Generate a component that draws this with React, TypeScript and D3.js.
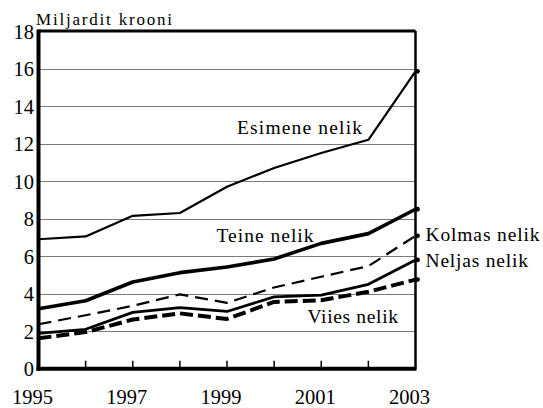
import * as d3 from "d3";

const YEARS = [1995, 1996, 1997, 1998, 1999, 2000, 2001, 2002, 2003];
const YEAR_LABELS = [1995, 1997, 1999, 2001, 2003];
const Y_TICKS = [0, 2, 4, 6, 8, 10, 12, 14, 16, 18];

const ESIMENE = [6.9, 7.05, 8.15, 8.3, 9.7, 10.7, 11.5, 12.2, 15.85];
const TEINE = [3.2, 3.62, 4.62, 5.12, 5.42, 5.85, 6.68, 7.2, 8.5];
const KOLMAS = [2.37, 2.85, 3.35, 3.96, 3.51, 4.33, 4.9, 5.47, 7.08];
const NELJAS = [1.88, 2.1, 3.0, 3.26, 3.05, 3.83, 3.92, 4.5, 5.8];
const VIIES = [1.62, 1.95, 2.62, 2.95, 2.65, 3.56, 3.65, 4.1, 4.75];

const SERIES = [
  { name: "Esimene nelik", values: ESIMENE, width: 2.2, dash: undefined },
  { name: "Teine nelik", values: TEINE, width: 3.6, dash: undefined },
  { name: "Kolmas nelik", values: KOLMAS, width: 2.2, dash: "13,7" },
  { name: "Neljas nelik", values: NELJAS, width: 2.8, dash: undefined },
  { name: "Viies nelik", values: VIIES, width: 4, dash: "13,5" },
];

// label positions (left x, baseline y, rendered width)
const LABELS = [
  { text: "Esimene nelik", x: 237, y: 134, w: 125 },
  { text: "Teine nelik", x: 216.5, y: 242, w: 97 },
  { text: "Kolmas nelik", x: 425.5, y: 241, w: 114 },
  { text: "Neljas nelik", x: 425.5, y: 266.5, w: 102.5 },
  { text: "Viies nelik", x: 307.5, y: 323, w: 90.5 },
];

const W = 543;
const H = 408;

export default function App() {
  const x = d3.scaleLinear().domain([1995, 2003]).range([38.5, 415.5]);
  const y = d3.scaleLinear().domain([0, 18]).range([368.7, 31]);

  const line = d3.line<number>()
    .x((_, i) => x(YEARS[i]))
    .y((d) => y(d));

  return (
    <svg
      width={W}
      height={H}
      style={{ position: "absolute", left: 0, top: 0, background: "#fff" }}
    >
      {/* gridlines */}
      {Y_TICKS.filter((t) => t > 0 && t < 18).map((t) => (
        <line
          key={t}
          x1={x(1995)}
          x2={x(2003)}
          y1={Math.round(y(t)) + 0.5}
          y2={Math.round(y(t)) + 0.5}
          stroke="#7a7a7a"
          strokeWidth={1}
        />
      ))}

      {/* bottom ticks, pointing up */}
      {YEARS.slice(1, -1).map((yr) => (
        <line key={yr} x1={x(yr)} x2={x(yr)} y1={y(0)} y2={y(0) - 8} stroke="#000" strokeWidth={1.5} />
      ))}

      {/* frame top / right */}
      <line x1={x(1995)} x2={x(2003)} y1={y(18)} y2={y(18)} stroke="#000" strokeWidth={3} />
      <line x1={x(2003)} x2={x(2003)} y1={y(18)} y2={y(0)} stroke="#000" strokeWidth={2.5} />

      {/* series */}
      {SERIES.map((s) => (
        <g key={s.name}>
          <path
            d={line(s.values) ?? ""}
            fill="none"
            stroke="#000"
            strokeWidth={s.width}
            strokeLinejoin="round"
            strokeDasharray={s.dash}
          />
          <circle cx={x(2003) + 2} cy={y(s.values[s.values.length - 1])} r={2.4} fill="#000" />
        </g>
      ))}

      {/* thick axes */}
      <line x1={x(1995)} x2={x(1995)} y1={y(18) - 1.5} y2={y(0) + 2} stroke="#000" strokeWidth={4} />
      <line x1={x(1995) - 2} x2={x(2003) + 1} y1={y(0)} y2={y(0)} stroke="#000" strokeWidth={4} />

      <g style={{ fontFamily: "Liberation Serif" }}>
        {/* y tick labels */}
        {Y_TICKS.map((t) => (
          <text key={t} x={34} y={y(t) + 7.5} textAnchor="end" fontSize={20.5} style={{ fontFamily: "Liberation Serif" }}>
            {t}
          </text>
        ))}

        {/* x tick labels */}
        {YEAR_LABELS.map((yr) => (
          <text key={yr} x={x(yr) - 6} y={404} textAnchor="middle" fontSize={20.5} style={{ fontFamily: "Liberation Serif" }}>
            {yr}
          </text>
        ))}

        {/* title */}
        <text x={36} y={25} fontSize={17} textLength={136} lengthAdjust="spacing" style={{ fontFamily: "Liberation Serif" }}>
          Miljardit krooni
        </text>

        {/* series labels */}
        {LABELS.map((l) => (
          <text
            key={l.text}
            x={l.x}
            y={l.y}
            fontSize={19.5}
            textLength={l.w}
            lengthAdjust="spacing"
            style={{ fontFamily: "Liberation Serif" }}
          >
            {l.text}
          </text>
        ))}
      </g>
    </svg>
  );
}
